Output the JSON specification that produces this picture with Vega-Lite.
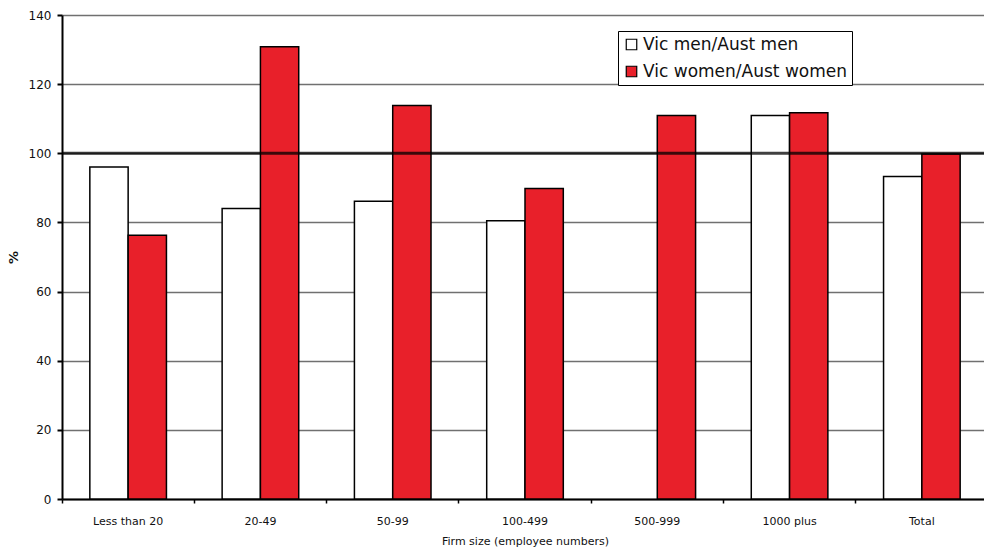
{
  "$schema": "https://vega.github.io/schema/vega-lite/v6.json",
  "autosize": "none",
  "width": 926,
  "height": 484,
  "padding": {"left": 62, "top": 15, "right": 0, "bottom": 55},
  "background": "white",
  "config": {
    "view": {"stroke": null},
    "font": "DejaVu Sans",
    "axis": {"labelFont": "DejaVu Sans", "titleFont": "DejaVu Sans", "labelColor": "#111", "titleColor": "#111"}
  },
  "layer": [
    {
      "data": {
        "values": [
          {"size": "Less than 20", "series": "Vic men/Aust men", "pct": 96},
          {"size": "Less than 20", "series": "Vic women/Aust women", "pct": 76.3},
          {"size": "20-49", "series": "Vic men/Aust men", "pct": 84},
          {"size": "20-49", "series": "Vic women/Aust women", "pct": 130.8},
          {"size": "50-99", "series": "Vic men/Aust men", "pct": 86.1},
          {"size": "50-99", "series": "Vic women/Aust women", "pct": 113.8},
          {"size": "100-499", "series": "Vic men/Aust men", "pct": 80.5},
          {"size": "100-499", "series": "Vic women/Aust women", "pct": 89.8},
          {"size": "500-999", "series": "Vic women/Aust women", "pct": 110.9},
          {"size": "1000 plus", "series": "Vic men/Aust men", "pct": 110.9},
          {"size": "1000 plus", "series": "Vic women/Aust women", "pct": 111.7},
          {"size": "Total", "series": "Vic men/Aust men", "pct": 93.3},
          {"size": "Total", "series": "Vic women/Aust women", "pct": 99.8}
        ]
      },
      "mark": {"type": "bar", "stroke": "black", "strokeWidth": 1.5},
      "encoding": {
        "x": {
          "field": "size",
          "type": "nominal",
          "sort": ["Less than 20", "20-49", "50-99", "100-499", "500-999", "1000 plus", "Total"],
          "scale": {"paddingInner": 0, "paddingOuter": 0},
          "axis": {
            "title": "Firm size (employee numbers)",
            "titleFontSize": 11,
            "titleFontWeight": "normal",
            "titlePadding": 9,
            "labelAngle": 0,
            "labelFontSize": 11,
            "labelPadding": 12,
            "bandPosition": 0,
            "tickSize": 4,
            "tickColor": "black",
            "tickWidth": 1.5,
            "domainColor": "black",
            "domainWidth": 2,
            "grid": false
          }
        },
        "xOffset": {
          "field": "series",
          "type": "nominal",
          "scale": {"paddingInner": 0, "paddingOuter": 0.727}
        },
        "y": {
          "field": "pct",
          "type": "quantitative",
          "scale": {"domain": [0, 140], "nice": false},
          "axis": {
            "title": "%",
            "titleFontSize": 13,
            "titleFontWeight": "bold",
            "titlePadding": 8,
            "values": [0, 20, 40, 60, 80, 100, 120, 140],
            "labelFontSize": 12,
            "labelPadding": 6,
            "tickSize": 5,
            "tickColor": "black",
            "tickWidth": 2,
            "domainColor": "black",
            "domainWidth": 2,
            "grid": true,
            "gridColor": "#707070",
            "gridWidth": 1.6
          }
        },
        "color": {
          "field": "series",
          "type": "nominal",
          "scale": {"domain": ["Vic men/Aust men", "Vic women/Aust women"], "range": ["white", "#e8202a"]},
          "legend": {
            "title": null,
            "orient": "none",
            "legendX": 556,
            "legendY": 16,
            "fillColor": "white",
            "strokeColor": "black",
            "padding": 5,
            "labelFontSize": 17,
            "labelFont": "DejaVu Sans",
            "labelColor": "#111",
            "labelLimit": 400,
            "labelOffset": 3,
            "symbolType": "square",
            "symbolSize": 110,
            "symbolStrokeColor": "black",
            "symbolStrokeWidth": 1.2,
            "symbolOpacity": 1,
            "rowPadding": 9
          }
        }
      }
    },
    {
      "data": {"values": [{"ref": 100}]},
      "mark": {"type": "rule", "color": "black", "strokeWidth": 3, "opacity": 0.75},
      "encoding": {"y": {"field": "ref", "type": "quantitative"}}
    }
  ]
}
